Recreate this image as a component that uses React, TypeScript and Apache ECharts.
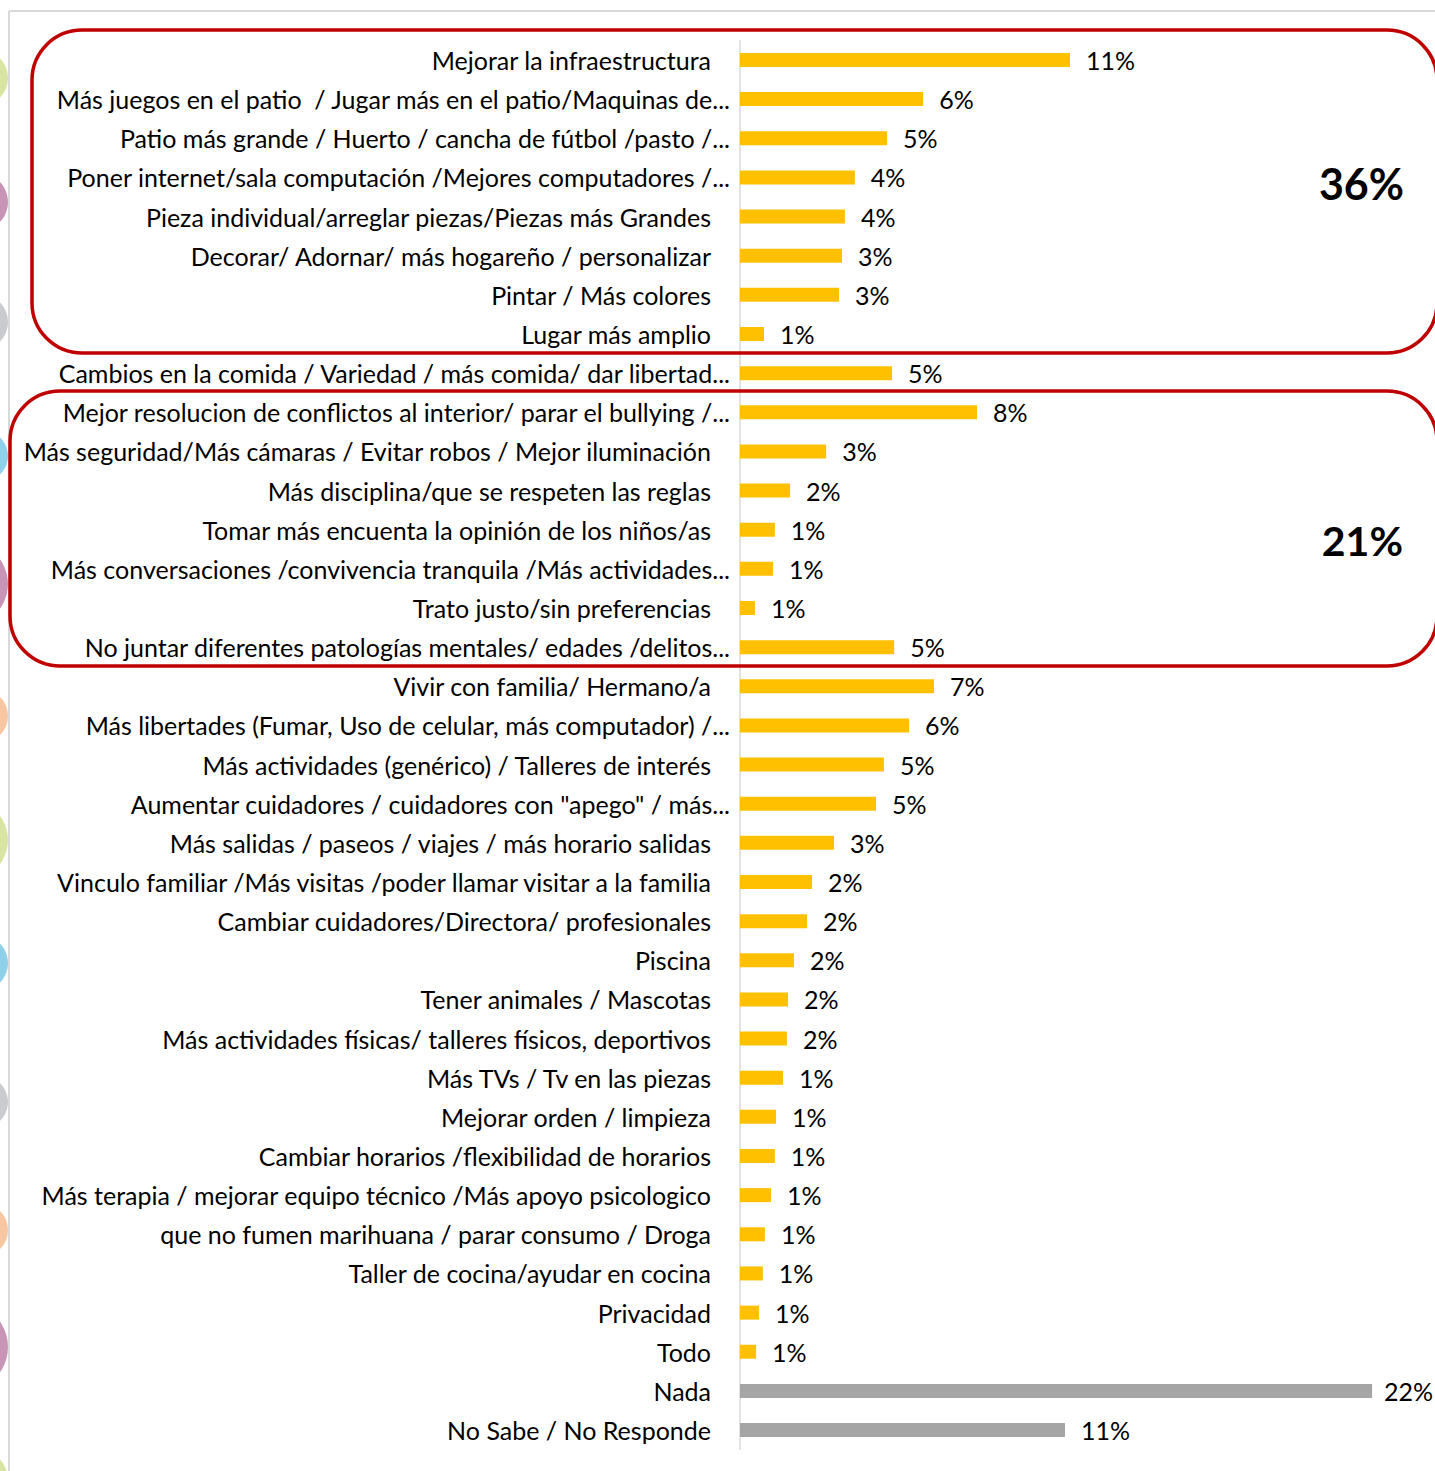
import React, { useEffect, useRef } from "react";
import * as echarts from "echarts";

const categories = [
  "Mejorar la infraestructura",
  "Más juegos en el patio  / Jugar más en el patio/Maquinas de...",
  "Patio más grande / Huerto / cancha de fútbol /pasto /...",
  "Poner internet/sala computación /Mejores computadores /...",
  "Pieza individual/arreglar piezas/Piezas más Grandes",
  "Decorar/ Adornar/ más hogareño / personalizar",
  "Pintar / Más colores",
  "Lugar más amplio",
  "Cambios en la comida / Variedad / más comida/ dar libertad...",
  "Mejor resolucion de conflictos al interior/ parar el bullying /...",
  "Más seguridad/Más cámaras / Evitar robos / Mejor iluminación",
  "Más disciplina/que se respeten las reglas",
  "Tomar más encuenta la opinión de los niños/as",
  "Más conversaciones /convivencia tranquila /Más actividades...",
  "Trato justo/sin preferencias",
  "No juntar diferentes patologías mentales/ edades /delitos...",
  "Vivir con familia/ Hermano/a",
  "Más libertades (Fumar, Uso de celular, más computador) /...",
  "Más actividades (genérico) / Talleres de interés",
  "Aumentar cuidadores / cuidadores con \"apego\" / más...",
  "Más salidas / paseos / viajes / más horario salidas",
  "Vinculo familiar /Más visitas /poder llamar visitar a la familia",
  "Cambiar cuidadores/Directora/ profesionales",
  "Piscina",
  "Tener animales / Mascotas",
  "Más actividades físicas/ talleres físicos, deportivos",
  "Más TVs / Tv en las piezas",
  "Mejorar orden / limpieza",
  "Cambiar horarios /flexibilidad de horarios",
  "Más terapia / mejorar equipo técnico /Más apoyo psicologico",
  "que no fumen marihuana / parar consumo / Droga",
  "Taller de cocina/ayudar en cocina",
  "Privacidad",
  "Todo",
  "Nada",
  "No Sabe / No Responde",
];

const values = [
  11.26, 6.25, 5.02, 3.92, 3.58, 3.48, 3.38, 0.82, 5.19, 8.09, 2.94, 1.71,
  1.19, 1.13, 0.51, 5.26, 6.62, 5.77, 4.91, 4.64, 3.21, 2.46, 2.29, 1.84,
  1.64, 1.6, 1.47, 1.23, 1.19, 1.06, 0.85, 0.78, 0.65, 0.55, 21.57, 11.09,
];

const grayCategories = ["Nada", "No Sabe / No Responde"];

const groupTotals = ["36%", "21%"];

const FONT = "Lato, 'Open Sans', sans-serif";

export default function App() {
  const ref = useRef<HTMLDivElement>(null);

  useEffect(() => {
    if (!ref.current) return;
    const chart = echarts.init(ref.current, null, { renderer: "svg" });

    const blobs = [
      { y: 78, r: 28, c: "#D7E4A2" },
      { y: 202, r: 29, c: "#C995B6" },
      { y: 322, r: 28, c: "#C9CBCF" },
      { y: 456, r: 25, c: "#90D1EA" },
      { y: 584, r: 42, c: "#C995B6" },
      { y: 716, r: 27, c: "#F8C7A2" },
      { y: 840, r: 40, c: "#D7E4A2" },
      { y: 963, r: 28, c: "#90D1EA" },
      { y: 1102, r: 26, c: "#C9CBCF" },
      { y: 1230, r: 27, c: "#F8C7A2" },
      { y: 1347, r: 44, c: "#C995B6" },
      { y: 1480, r: 30, c: "#D7E4A2" },
    ];

    const maxVal = Math.max(...values);

    chart.setOption({
      animation: false,
      backgroundColor: "#ffffff",
      grid: {
        left: 740,
        right: 21,
        top: 40.4,
        bottom: 21.4,
        containLabel: false,
        outerBoundsMode: "none",
      },
      xAxis: {
        type: "value",
        min: 0,
        max: 23,
        show: false,
        splitLine: { show: false },
      },
      yAxis: {
        type: "category",
        inverse: true,
        data: categories,
        axisLine: { show: true, lineStyle: { color: "#D9D9D9", width: 1.5 } },
        axisTick: { show: false },
        axisLabel: {
          margin: 10,
          fontFamily: FONT,
          fontSize: 25,
          color: "#000",
          formatter: (v: string) =>
            v.endsWith("...") ? `{e|${v}}` : `{n|${v}}`,
          rich: {
            e: { fontFamily: FONT, fontSize: 25, color: "#000", padding: [0, 0, 0, 0] },
            n: { fontFamily: FONT, fontSize: 25, color: "#000", padding: [0, 19, 0, 0] },
          },
        },
      },
      series: [
        {
          type: "bar",
          barWidth: 14,
          data: values.map((v, i) => ({
            value: v,
            itemStyle: {
              color: grayCategories.includes(categories[i]) ? "#A5A5A5" : "#FFC000",
            },
            label: v === maxVal ? { distance: 12 } : undefined,
          })),
          label: {
            show: true,
            position: "right",
            distance: 16,
            fontFamily: FONT,
            fontSize: 25,
            color: "#000",
            formatter: (p: any) => Math.round(p.value) + "%",
          },
        },
      ],
      graphic: [
        ...blobs.map((b) => ({
          type: "circle",
          shape: { cx: 8 - b.r, cy: b.y, r: b.r },
          style: { fill: b.c },
          silent: true,
          z: 0,
        })),
        {
          type: "line",
          shape: { x1: 9, y1: 11, x2: 1435, y2: 11 },
          style: { stroke: "#D9D9D9", lineWidth: 2 },
          silent: true,
        },
        {
          type: "line",
          shape: { x1: 9, y1: 11, x2: 9, y2: 1471 },
          style: { stroke: "#D9D9D9", lineWidth: 2 },
          silent: true,
        },
        {
          type: "rect",
          shape: { x: 32, y: 30, width: 1405, height: 323, r: 50 },
          style: { fill: "none", stroke: "#C00000", lineWidth: 3.5 },
          silent: true,
          z: 10,
        },
        {
          type: "rect",
          shape: { x: 10, y: 391, width: 1427, height: 275, r: 50 },
          style: { fill: "none", stroke: "#C00000", lineWidth: 3.5 },
          silent: true,
          z: 10,
        },
        {
          type: "text",
          x: 1404,
          y: 183,
          style: {
            text: groupTotals[0],
            fontFamily: FONT,
            fontWeight: "bold",
            fontSize: 43,
            fill: "#000",
            align: "right",
            verticalAlign: "middle",
          },
          z: 10,
        },
        {
          type: "text",
          x: 1403,
          y: 540,
          style: {
            text: groupTotals[1],
            fontFamily: FONT,
            fontWeight: "bold",
            fontSize: 41,
            fill: "#000",
            align: "right",
            verticalAlign: "middle",
          },
          z: 10,
        },
      ],
    });

    return () => chart.dispose();
  }, []);

  return (
    <div
      ref={ref}
      style={{ position: "absolute", left: 0, top: 0, width: 1435, height: 1471 }}
    />
  );
}
